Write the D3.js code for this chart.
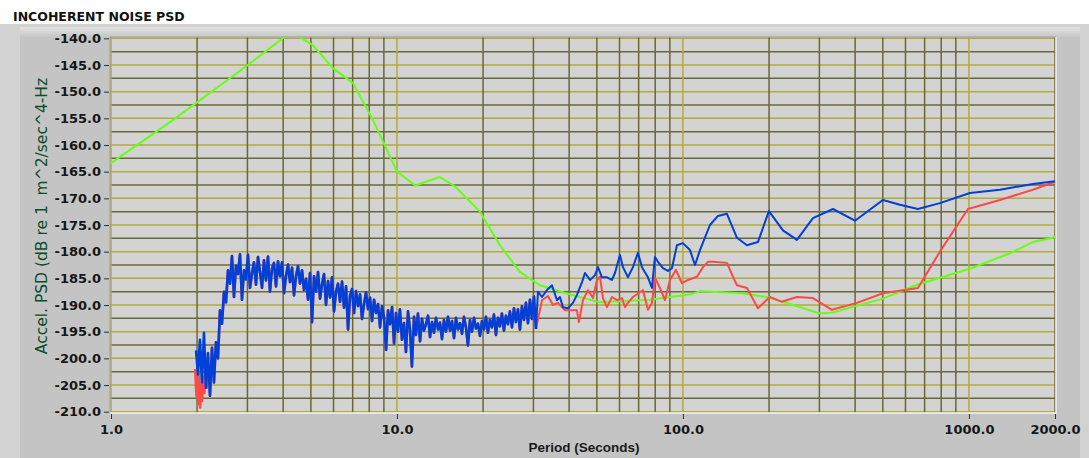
<!DOCTYPE html>
<html>
<head>
<meta charset="utf-8">
<script src="https://cdn.jsdelivr.net/npm/d3@7"></script>
<style>
body { margin: 0; background: #fff; }
svg { display: block; }
</style>
</head>
<body>
<svg></svg>
<script>
let width = 1089, height = 458;

// axis ticks
const yTicks = [-140, -145, -150, -155, -160, -165, -170, -175, -180, -185, -190, -195, -200, -205, -210];
const xTicks = [1, 10, 100, 1000, 2000];

// green model curve [period, dB]
const greenPSD = [
  [1.0, -163.4], [1.65, -155.3], [3.01, -145.0], [3.99, -140.0], [4.3, -138.8], [4.65, -140.0],
  [5.08, -141.3], [5.97, -145.6], [7.02, -148.4], [8.24, -155.3], [10.0, -165.0], [11.6, -167.6],
  [14.1, -166.0], [15.9, -167.7], [19.5, -172.5], [22.9, -178.8], [26.9, -183.8], [31.6, -186.3],
  [40.3, -188.0], [51.2, -189.5], [76.7, -189.0], [106, -188.0], [115, -187.4], [162, -187.8],
  [201, -188.6], [301, -191.6], [334, -191.4], [500, -188.8], [658, -186.2], [1008, -183.2],
  [1391, -180.3], [1674, -178.2], [2000, -177.3]
];

// dense short-period section, shared by both channels
const noisePeriod = [
  1.983, 2.015, 2.047, 2.080, 2.114, 2.148, 2.183, 2.219, 2.255, 2.291, 2.328, 2.366, 2.405, 2.444, 2.484, 2.524,
  2.565, 2.607, 2.649, 2.692, 2.736, 2.780, 2.825, 2.871, 2.918, 2.965, 3.013, 3.062, 3.112, 3.162, 3.214, 3.266,
  3.319, 3.373, 3.428, 3.483, 3.540, 3.597, 3.656, 3.715, 3.776, 3.837, 3.899, 3.963, 4.027, 4.092, 4.159, 4.226,
  4.295, 4.365, 4.436, 4.508, 4.581, 4.655, 4.731, 4.808, 4.886, 4.965, 5.046, 5.128, 5.211, 5.296, 5.382, 5.469,
  5.558, 5.648, 5.740, 5.833, 5.928, 6.024, 6.122, 6.221, 6.322, 6.425, 6.529, 6.635, 6.743, 6.852, 6.964, 7.077,
  7.192, 7.308, 7.427, 7.548, 7.670, 7.795, 7.922, 8.050, 8.181, 8.314, 8.449, 8.586, 8.726, 8.868, 9.011, 9.158,
  9.307, 9.458, 9.611, 9.767, 9.920, 10.08, 10.24, 10.41, 10.58, 10.75, 10.93, 11.10, 11.28, 11.47, 11.65, 11.84,
  12.04, 12.23, 12.43, 12.63, 12.84, 13.05, 13.26, 13.47, 13.69, 13.92, 14.14, 14.37, 14.60, 14.84, 15.08, 15.33,
  15.57, 15.83, 16.08, 16.34, 16.61, 16.88, 17.15, 17.43, 17.71, 18.00, 18.29, 18.59, 18.89, 19.20, 19.51, 19.83,
  20.15, 20.47, 20.80, 21.14, 21.48, 21.83, 22.19, 22.55, 22.91, 23.28, 23.66, 24.05, 24.44, 24.83, 25.24, 25.65,
  26.06, 26.49, 26.92, 27.36, 27.80, 28.25, 28.71, 29.18, 29.65, 30.13, 30.62
];
const noiseDb = [
  -198.5, -203, -196.5, -204.5, -195.2, -205.5, -199, -207, -198, -204.5, -197, -200, -191, -193.5, -187.5, -189.5,
  -183.5, -186, -180.8, -188.5, -182.6, -184.2, -180.5, -189, -183.5, -185.2, -180.6, -186.8, -184.1, -182, -186.2, -181,
  -183.8, -186.8, -181.6, -185.4, -180.9, -187.5, -183.2, -182.1, -186.5, -181.8, -184.6, -182, -187.8, -184.6, -182.4, -185.7,
  -183, -188.2, -184.5, -182.7, -186, -183.5, -187.2, -185.1, -189, -184, -193.2, -184.6, -187.5, -183.8, -188.8, -186.1,
  -184.2, -190, -185.5, -188.6, -184.8, -191.2, -187.5, -186, -189.4, -185.6, -190.5, -186.5, -194.6, -188.3, -187, -191.5,
  -187.4, -190.2, -188, -192.6, -189.8, -187.6, -190.8, -188.6, -193, -189, -191.5, -189.8, -194.2, -190.2, -192.4, -198.4,
  -191, -193.6, -190.4, -197.2, -191.5, -195, -190.8, -196.5, -193.4, -198.8, -191.2, -194.5, -201.5, -192.2, -195.6, -191.6,
  -196.8, -192.6, -194.8, -193.6, -192, -196, -193.2, -195.2, -192.4, -194.6, -193.3, -196.4, -192.8, -195, -192.2, -194.8,
  -193, -196.2, -192.4, -194.6, -193.4, -195.4, -192.2, -194.2, -197.6, -192.8, -195, -192.4, -194.4, -193.5, -195.8, -193,
  -194.6, -192.2, -195.2, -192.8, -194.2, -191.8, -195.6, -192.4, -194, -191.6, -194.8, -192, -193.6, -191.2, -194.2, -190.6,
  -193.2, -190.8, -194.6, -190.2, -192.8, -189.6, -193.4, -189, -192.6, -188.4, -194.5
];

// blue channel, longer periods
const blueTail = [
  [31.12, -187.5], [32.14, -188.5], [33.46, -187.2], [34.83, -186.3], [36.26, -189.1], [37.14, -188.5], [38.05, -190.4],
  [39.62, -190.6], [41.25, -189.6], [42.60, -188.1], [44.36, -185.7], [45.44, -184.0], [47.31, -185.3], [49.26, -184.4],
  [50.46, -182.9], [52.11, -184.8], [54.25, -184.8], [56.47, -185.3], [57.85, -184.0], [60.23, -180.6], [61.70, -182.9],
  [64.23, -184.8], [66.87, -182.9], [69.61, -180.2], [71.88, -182.9], [75.44, -184.8], [77.91, -186.8], [79.82, -181.0],
  [81.77, -181.9], [85.13, -183.1], [88.62, -183.6], [91.51, -183.1], [95.28, -178.8], [100.0, -178.4], [105.8, -179.7],
  [110.2, -182.5], [114.7, -179.7], [124.3, -175.0], [132.6, -173.3], [142.5, -172.9], [154.5, -177.4], [167.4, -178.8],
  [182.9, -178.2], [199.8, -172.4], [223.7, -176.0], [250.4, -177.8], [284.8, -173.7], [334.6, -172.0], [399.5, -174.2],
  [500.4, -170.3], [573.8, -171.2], [663.3, -172.0], [791.6, -170.9], [1008, -169.0], [1284, -168.4], [1674, -167.3],
  [2000, -166.8]
];

// red channel: lower start, then longer periods
const redHead = [
  [1.97, -202], [1.99, -207], [2.00, -204], [2.02, -208.5], [2.03, -203], [2.05, -209.2], [2.06, -205], [2.08, -208],
  [2.10, -203.5], [2.12, -206.5], [2.14, -202.5], [2.16, -205.5], [2.18, -201], [2.20, -203]
];
const redTail = [
  [32.14, -189.1], [33.73, -188.3], [35.12, -190.0], [36.56, -189.6], [38.67, -191.0], [42.60, -191.0], [43.28, -193.2],
  [44.71, -189.1], [46.54, -187.2], [48.46, -188.7], [50.04, -185.3], [51.27, -184.7], [52.52, -188.7], [54.25, -190.4],
  [56.47, -188.5], [58.79, -189.1], [61.20, -188.7], [62.70, -190.4], [64.23, -189.6], [66.87, -188.5], [70.74, -187.6],
  [72.46, -187.2], [75.44, -190.9], [77.91, -189.6], [79.82, -184.9], [83.09, -186.8], [86.51, -189.1], [90.07, -185.3],
  [94.52, -183.4], [99.19, -185.9], [104.1, -185.3], [111.9, -184.7], [117.5, -182.9], [122.3, -181.9], [127.3, -181.9],
  [142.5, -182.1], [149.6, -184.7], [154.5, -186.3], [167.4, -186.8], [182.9, -190.6], [201.4, -188.5], [221.9, -189.4],
  [250.4, -188.5], [284.8, -188.7], [331.9, -190.9], [406.0, -189.6], [500.4, -187.8], [663.3, -186.8], [791.6, -180.0],
  [992, -172.0], [1284, -170.3], [1674, -168.4], [2000, -166.9]
];

let noise = noisePeriod.map((p, i) => [p, noiseDb[i]]);
let redNoise = redHead.concat(noise.filter(d => d[0] > 2.21));
let redTailData = [noise[noise.length - 1]].concat(redTail);
let blueTailData = [noise[noise.length - 1]].concat(blueTail);

let svg = d3.select("svg")
    .attr("width", width)
    .attr("height", height)
    .style("font-family", "DejaVu Sans");

let plot = { left: 110, top: 37, right: 1056, bottom: 413 };

let x = d3.scaleLog().domain([1, 2000]).range([111, 1055]);
let y = d3.scaleLinear().domain([-210, -140]).range([411.7, 38.3]);

// panel background
let defs = svg.append("defs");
let grad = defs.append("linearGradient")
    .attr("id", "topfade").attr("x1", 0).attr("y1", 0).attr("x2", 0).attr("y2", 1);
grad.append("stop").attr("offset", "0%").attr("stop-color", "#e2e2e2");
grad.append("stop").attr("offset", "100%").attr("stop-color", "#c6c6c6");

svg.append("rect").attr("x", 0).attr("y", 24).attr("width", width).attr("height", height - 24).attr("fill", "#d2d2d2");
svg.append("rect").attr("x", 20).attr("y", 27).attr("width", 1060).attr("height", height - 27).attr("fill", "#c4c4c4");
svg.append("rect").attr("x", 20).attr("y", 27).attr("width", 1060).attr("height", 10).attr("fill", "url(#topfade)");

svg.append("text")
    .attr("x", 13).attr("y", 21)
    .style("font-size", "12.5px").style("font-weight", "bold").attr("fill", "#111")
    .text("INCOHERENT NOISE PSD");

// plot area
svg.append("rect")
    .attr("x", plot.left).attr("y", plot.top)
    .attr("width", plot.right - plot.left).attr("height", plot.bottom - plot.top)
    .attr("fill", "#d3d3d3");

defs.append("clipPath").attr("id", "clip")
  .append("rect")
    .attr("x", plot.left).attr("y", plot.top)
    .attr("width", plot.right - plot.left).attr("height", plot.bottom - plot.top);

// grid lines
let hGrid = d3.range(-210, -139, 2.5);
let vGrid = [];
[1, 10, 100, 1000].forEach(dec => {
    for (let k = 1; k <= 9; k++) if (k * dec <= 2000) vGrid.push({ v: k * dec, major: k == 1 });
});

let grid = svg.append("g").attr("clip-path", "url(#clip)");
grid.selectAll("line.h")
    .data(hGrid)
    .enter()
    .append("line")
    .attr("x1", plot.left).attr("x2", plot.right)
    .attr("y1", d => y(d)).attr("y2", d => y(d))
    .attr("stroke", d => d % 5 == 0 ? "#b3ab3e" : "#6c6836")
    .attr("stroke-width", 1.5);

grid.selectAll("line.v")
    .data(vGrid)
    .enter()
    .append("line")
    .attr("x1", d => x(d.v)).attr("x2", d => x(d.v))
    .attr("y1", plot.top).attr("y2", plot.bottom)
    .attr("stroke", d => d.major ? "#b3ab3e" : "#6c6836")
    .attr("stroke-width", 1.5);

// sunken frame
svg.append("path").attr("d", `M${plot.left},${plot.bottom} V${plot.top} H${plot.right}`)
    .attr("fill", "none").attr("stroke", "#9e9e9e").attr("stroke-width", 1);
svg.append("path").attr("d", `M${plot.left},${plot.bottom} H${plot.right} V${plot.top}`)
    .attr("fill", "none").attr("stroke", "#f2f2f2").attr("stroke-width", 1.5);

// series
let line = d3.line().x(d => x(d[0])).y(d => y(d[1]));
let series = svg.append("g").attr("clip-path", "url(#clip)").attr("fill", "none")
    .attr("stroke-linejoin", "round");

series.append("path").datum(greenPSD).attr("d", line).attr("stroke", "#66ff14").attr("stroke-width", 2);
series.append("path").datum(redNoise).attr("d", line).attr("stroke", "#ff4848").attr("stroke-width", 2.6);
series.append("path").datum(redTailData).attr("d", line).attr("stroke", "#ff4848").attr("stroke-width", 2);
series.append("path").datum(noise).attr("d", line).attr("stroke", "#0040d6").attr("stroke-width", 2.6);
series.append("path").datum(blueTailData).attr("d", line).attr("stroke", "#0040d6").attr("stroke-width", 2);

// axes
let yAxis = svg.append("g")
    .attr("transform", `translate(${plot.left - 1},0)`)
    .call(d3.axisLeft(y).tickValues(yTicks).tickFormat(d => d.toFixed(1)).tickSize(5).tickPadding(3));
let xAxis = svg.append("g")
    .attr("transform", `translate(0,${plot.bottom + 1})`)
    .call(d3.axisBottom(x).tickValues(xTicks).tickFormat(d => d.toFixed(1)).tickSize(5).tickPadding(6));

[yAxis, xAxis].forEach(a => {
    a.select(".domain").remove();
    a.selectAll(".tick line").attr("stroke", "#333");
    a.selectAll(".tick text")
        .attr("fill", "#161616")
        .style("font-family", "DejaVu Sans")
        .style("font-size", "13px")
        .style("font-weight", "bold");
});

svg.append("text")
    .attr("x", 584).attr("y", 452)
    .attr("text-anchor", "middle")
    .style("font-family", "Liberation Sans").style("font-size", "13.5px").style("font-weight", "bold")
    .attr("fill", "#1a1a1a")
    .text("Period (Seconds)");

svg.append("text")
    .attr("transform", "translate(47,216) rotate(-90)")
    .attr("text-anchor", "middle")
    .style("font-size", "15.5px")
    .style("white-space", "pre")
    .attr("fill", "#0b4d2a")
    .text("Accel. PSD (dB re 1  m^2/sec^4-Hz");
</script>
</body>
</html>
